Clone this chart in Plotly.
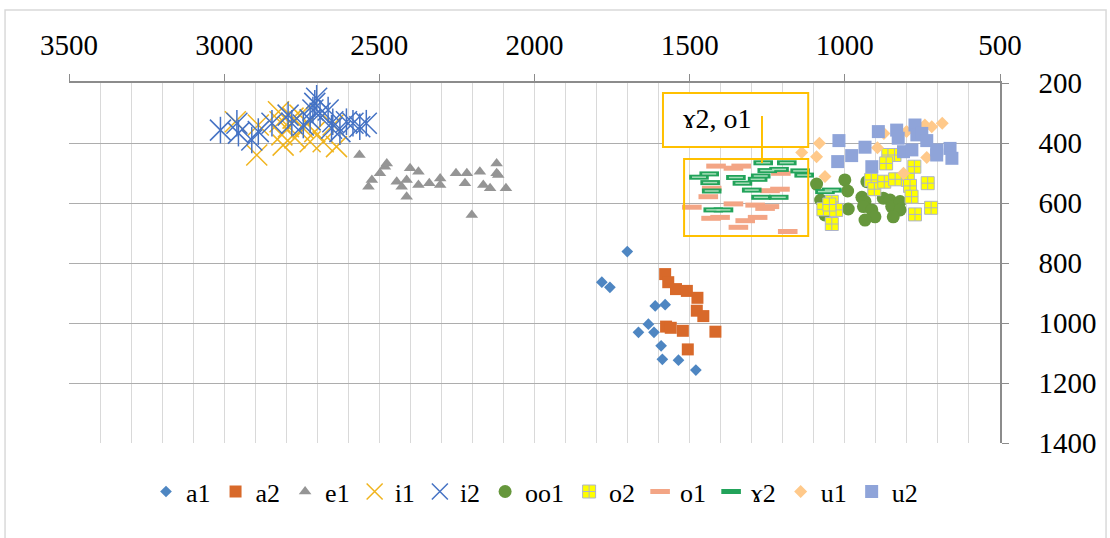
import plotly.graph_objects as go

# ---- data (F2 on x, F1 on y) ----
a1_f2 = [1701, 1783, 1757, 1611, 1579, 1633, 1665, 1615, 1592, 1588, 1536, 1480]
a1_f1 = [762, 864, 881, 943, 939, 1004, 1031, 1031, 1076, 1121, 1124, 1157]

a2_f2 = [1579, 1569, 1544, 1509, 1475, 1477, 1456, 1576, 1561, 1522, 1417, 1506]
a2_f1 = [837, 864, 887, 893, 916, 959, 977, 1012, 1016, 1026, 1029, 1088]

e1_f2 = [2564, 2535, 2524, 2498, 2482, 2476, 2444, 2428, 2412, 2401, 2412, 2374, 2374, 2339,
         2304, 2304, 2253, 2218, 2224, 2176, 2165, 2143, 2122, 2122, 2117, 2092, 2202]
e1_f1 = [440, 546, 523, 501, 479, 468, 529, 546, 523, 484, 579, 496, 540, 534,
         518, 540, 501, 501, 534, 496, 540, 551, 468, 501, 507, 551, 640]

i1_f2 = [2964, 2895, 2890, 2825, 2814, 2793, 2778, 2772, 2746, 2723, 2708, 2681, 2649, 2638, 2820, 2756, 2810]
i1_f1 = [329, 440, 340, 296, 373, 346, 317, 383, 350, 396, 362, 396, 340, 412, 329, 307, 407]

i2_f2 = [3012, 2959, 2954, 2911, 2890, 2846, 2794, 2782, 2745, 2723, 2708, 2702, 2714, 2691,
         2665, 2654, 2627, 2606, 2585, 2563, 2542, 2650]
i2_f1 = [357, 334, 367, 390, 362, 334, 307, 334, 340, 323, 268, 251, 290, 301,
         290, 351, 362, 329, 334, 346, 334, 329]

oo1_f2 = [1091, 1000, 991, 1078, 989, 1064, 1058, 945, 929, 935, 940, 913, 903, 935, 876, 854, 849, 822, 822, 844]
oo1_f1 = [537, 523, 560, 590, 620, 640, 623, 581, 529, 595, 612, 623, 646, 657, 584, 590, 612, 595, 623, 646]

o2_f2 = [860, 840, 867, 776, 915, 905, 873, 838, 797, 790, 785, 733, 722, 774, 1042, 1069, 1028, 1042, 1050]
o2_f1 = [440, 440, 468, 479, 523, 554, 529, 521, 523, 543, 579, 534, 616, 638, 596, 621, 623, 670, 605]

o1_f2 = [1415, 1359, 1334, 1206, 1429, 1440, 1241, 1209, 1493, 1359, 1289, 1257, 1243, 1431,
         1402, 1321, 1281, 1343, 1184]
o1_f1 = [477, 484, 477, 501, 551, 579, 559, 554, 614, 603, 607, 618, 612, 651,
         648, 659, 648, 681, 695]

g2_f2 = [1263, 1187, 1470, 1437, 1434, 1429, 1351, 1330, 1300, 1281, 1271, 1250, 1212, 1270,
         1213, 1424, 1391, 1144, 1131, 1064, 1042]
g2_f1 = [466, 466, 514, 503, 532, 560, 515, 534, 557, 521, 510, 492, 488, 581,
         581, 623, 623, 493, 507, 562, 557]

u1_f2 = [1139, 1091, 1082, 1064, 895, 874, 811, 801, 742, 736, 720, 686]
u1_f1 = [432, 446, 401, 512, 416, 368, 501, 362, 340, 448, 346, 334]

u2_f2 = [1019, 1023, 978, 935, 913, 892, 833, 828, 811, 784, 774, 768, 752, 736, 704, 704, 661, 655]
u2_f1 = [392, 462, 442, 414, 479, 362, 357, 384, 429, 423, 340, 373, 368, 392, 423, 440, 418, 451]

x_ticks = [3500, 3000, 2500, 2000, 1500, 1000, 500]
y_ticks = [200, 400, 600, 800, 1000, 1200, 1400]

label_text = "ɤ2, o1"
FONT = "Liberation Serif"
GOLD = "#FFC000"

fig = go.Figure()

def add(name, x, y, **marker):
    fig.add_trace(go.Scatter(x=x, y=y, mode="markers", name=name, marker=marker,
                             legendgroup=name))

add("a1", a1_f2, a1_f1, symbol="diamond", size=9, color="#4E86C2")
add("a2", a2_f2, a2_f1, symbol="square", size=12, color="#D8692A")
add("e1", e1_f2, e1_f1, symbol="triangle-up", size=11, color="#959595")
add("i1", i1_f2, i1_f1, symbol="x-thin", size=21, color="#F0B41E",
    line=dict(color="#F0B41E", width=1.5))
add("i2", i2_f2, i2_f1, symbol="x-thin", size=21, color="#4472C4",
    line=dict(color="#4472C4", width=1.5))
fig.add_trace(go.Scatter(x=i2_f2, y=i2_f1, mode="markers", legendgroup="i2", showlegend=False,
                         marker=dict(symbol="line-ns", size=19, color="#4472C4",
                                     line=dict(color="#4472C4", width=1.5))))
add("oo1", oo1_f2, oo1_f1, symbol="circle", size=13, color="#66973C")
add("o2", o2_f2, o2_f1, symbol="square-cross", size=13, color="#FFFF00",
    line=dict(color="#AEB4CA", width=1))
add("o1", o1_f2, o1_f1, symbol="line-ew", size=14, color="#F3A585",
    line=dict(color="#F3A585", width=5))
add("ɤ2", g2_f2, g2_f1, symbol="line-ew", size=14, color="#22A35A",
    line=dict(color="#22A35A", width=5))
fig.add_trace(go.Scatter(x=g2_f2, y=g2_f1, mode="markers", legendgroup="ɤ2", showlegend=False,
                         marker=dict(symbol="line-ew", size=10, color="#A6DDB8",
                                     line=dict(color="#A6DDB8", width=1.5))))
add("u1", u1_f2, u1_f1, symbol="diamond", size=10, color="#FFC98A")
add("u2", u2_f2, u2_f1, symbol="square", size=13, color="#8FA4D9")

# callout shapes
fig.add_shape(type="rect", xref="x", yref="y", x0=1518, x1=1118, y0=453, y1=710,
              line=dict(color=GOLD, width=2), layer="above")
fig.add_shape(type="rect", xref="x", yref="y", x0=1586, x1=1118, y0=233, y1=413,
              line=dict(color=GOLD, width=2), fillcolor="white", layer="above")
fig.add_shape(type="line", xref="x", yref="y", x0=1267, x1=1267, y0=310, y1=467,
              line=dict(color=GOLD, width=2), layer="above")
fig.add_annotation(xref="x", yref="y", x=1527, y=318, text=label_text, showarrow=False,
                   xanchor="left", yanchor="middle",
                   font=dict(family=FONT, size=28, color="black"))

# outer chart border
fig.add_shape(type="rect", xref="paper", yref="paper", x0=-0.0687, x1=1.1139, y0=-0.27, y1=1.2028,
              line=dict(color="#D9D9D9", width=1.5), layer="below")

fig.update_layout(
    width=1110, height=538,
    margin=dict(l=69, r=110, t=83, b=95, autoexpand=False),
    paper_bgcolor="white", plot_bgcolor="white",
    font=dict(family=FONT, size=29, color="black"),
    showlegend=True,
    legend=dict(orientation="h", x=0.50, xanchor="center", y=-0.135, yanchor="middle",
                font=dict(family=FONT, size=26, color="black"), bgcolor="rgba(0,0,0,0)",
                itemwidth=30, tracegroupgap=0),
)
fig.update_xaxes(
    side="top", range=[3500, 500], tickvals=x_ticks, ticktext=[str(v) for v in x_ticks],
    showgrid=True, gridcolor="#D9D9D9", gridwidth=1,
    minor=dict(dtick=100, tick0=500, showgrid=True, gridcolor="#D9D9D9", gridwidth=1),
    showline=True, linecolor="#8C8C8C", linewidth=1.5,
    ticks="outside", ticklen=7, tickcolor="#8C8C8C",
    ticklabelstandoff=8, zeroline=False, automargin=False,
    tickfont=dict(family=FONT, size=29, color="black"),
)
fig.update_yaxes(
    side="right", range=[1400, 200], tickvals=y_ticks, ticktext=[str(v) for v in y_ticks],
    showgrid=True, gridcolor="#ADADAD", gridwidth=1.2,
    showline=True, linecolor="#8C8C8C", linewidth=1.5,
    ticks="outside", ticklen=7, tickcolor="#8C8C8C",
    ticklabelstandoff=24, zeroline=False, automargin=False,
    tickfont=dict(family=FONT, size=29, color="black"),
)

fig.write_html("out.html", config={"displayModeBar": False},
               post_script="document.body.style.margin='0px';")
